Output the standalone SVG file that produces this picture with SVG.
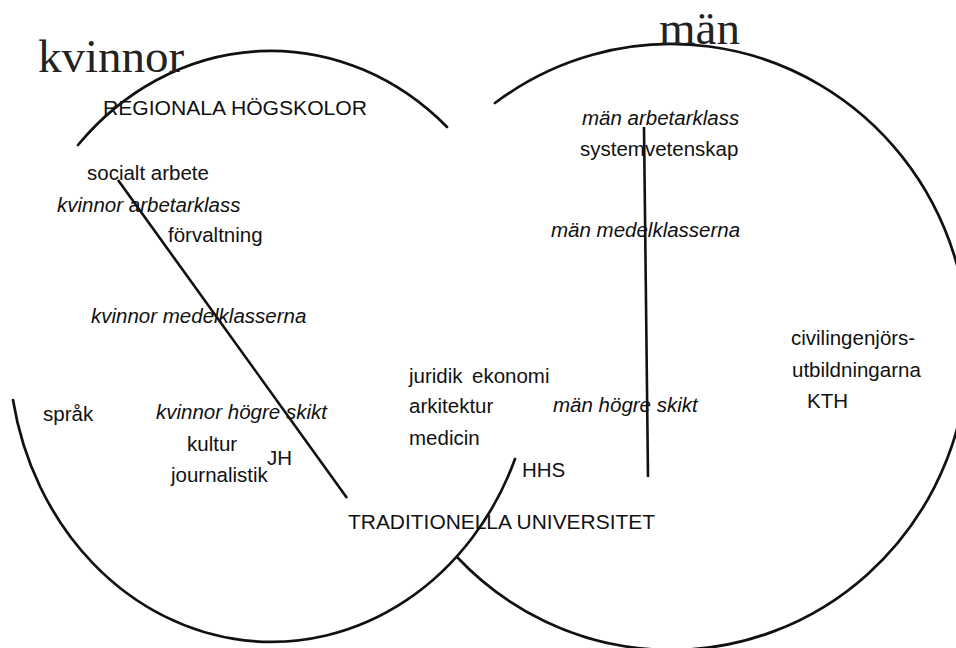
<svg xmlns="http://www.w3.org/2000/svg" width="956" height="648" viewBox="0 0 956 648">
<style>
.c{fill:none;stroke:#111;stroke-width:2.7;stroke-linecap:round}
.ln{fill:none;stroke:#111;stroke-width:2.6;stroke-linecap:butt}
.t{font-family:"Liberation Sans",Arial,sans-serif;font-size:20.5px;fill:#111}
.i{font-style:italic}
.h{font-family:"Liberation Serif","Times New Roman",serif;font-size:47px;fill:#222}
</style>
<rect width="956" height="648" fill="#fff"/>
<g id="circles">
<path id="kvinnor-top" class="c" d="M78,145 A263,295 0 0 1 447,127"/>
<path id="kvinnor-bottom" class="c" d="M13,400 A263,295 0 0 0 515,459"/>
<path id="man-circle" class="c" d="M495,103 A297,303 0 1 1 457,557"/>
</g>
<g id="connectors">
<line class="ln" x1="118" y1="180" x2="347" y2="498"/>
<line class="ln" x1="644" y1="127" x2="648" y2="477"/>
</g>
<g id="titles">
<text class="h" x="38" y="72">kvinnor</text>
<text class="h" x="659" y="44">män</text>
</g>
<g id="labels-left">
<text class="t" x="103" y="115" textLength="264" lengthAdjust="spacingAndGlyphs">REGIONALA HÖGSKOLOR</text>
<text class="t" x="87" y="180">socialt arbete</text>
<text class="t i" x="57" y="212">kvinnor arbetarklass</text>
<text class="t" x="168" y="242">förvaltning</text>
<text class="t i" x="91" y="323">kvinnor medelklasserna</text>
<text class="t" x="43" y="421">språk</text>
<text class="t i" x="156" y="419">kvinnor högre skikt</text>
<text class="t" x="187" y="451">kultur</text>
<text class="t" x="171" y="482">journalistik</text>
<text class="t" x="267" y="465">JH</text>
</g>
<g id="labels-middle">
<text class="t" x="409" y="383">juridik<tspan x="472">ekonomi</tspan></text>
<text class="t" x="409" y="413">arkitektur</text>
<text class="t" x="409" y="445">medicin</text>
<text class="t" x="522" y="477">HHS</text>
<text class="t" x="348" y="529" textLength="307" lengthAdjust="spacingAndGlyphs">TRADITIONELLA UNIVERSITET</text>
</g>
<g id="labels-right">
<text class="t i" x="582" y="125">män arbetarklass</text>
<text class="t" x="580" y="156">systemvetenskap</text>
<text class="t i" x="551" y="237">män medelklasserna</text>
<text class="t i" x="553" y="412">män högre skikt</text>
<text class="t" x="791" y="345">civilingenjörs-</text>
<text class="t" x="792" y="377">utbildningarna</text>
<text class="t" x="807" y="408">KTH</text>
</g>
</svg>
